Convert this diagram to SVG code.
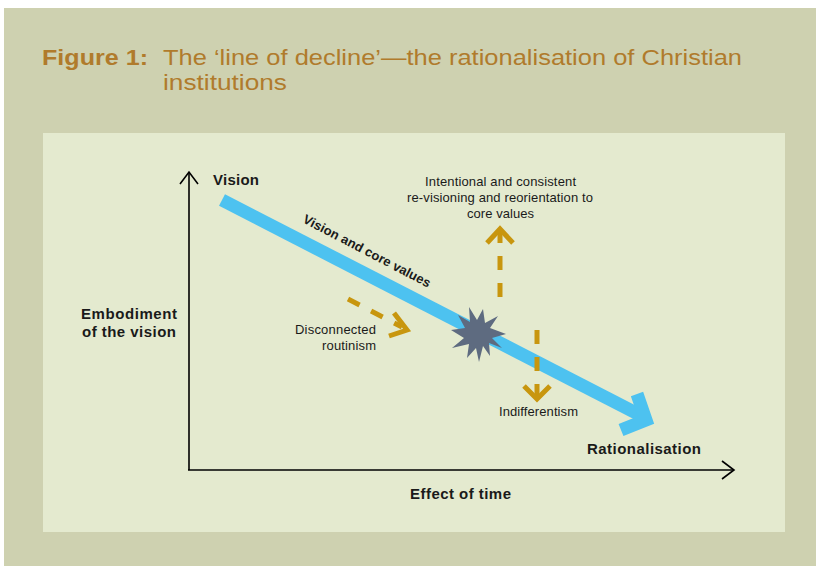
<svg xmlns="http://www.w3.org/2000/svg" width="816" height="566" viewBox="0 0 816 566">
<defs>
<style>
.t{font-family:"Liberation Sans",Arial,sans-serif;fill:#1a1a1a}
.b{font-weight:bold}
.title{font-family:"Liberation Sans",Arial,sans-serif;fill:#B07B2C;font-size:22.5px}
.axis{stroke:#000;stroke-width:1.6;fill:none}
.gold{stroke:#C8960E;stroke-width:5;fill:none}
.dash{stroke-dasharray:13 13}
</style>
</defs>
<rect x="0" y="0" width="816" height="566" fill="#fff"/>
<rect x="4" y="8" width="812" height="558" fill="#CED1B0"/>
<text class="title b" x="42" y="65" textLength="106" lengthAdjust="spacingAndGlyphs">Figure 1:</text>
<text class="title" x="163" y="65" textLength="579" lengthAdjust="spacingAndGlyphs">The ‘line of decline’—the rationalisation of Christian</text>
<text class="title" x="163" y="90" textLength="124" lengthAdjust="spacingAndGlyphs">institutions</text>
<rect x="43" y="133" width="742" height="399" fill="#E4EACF"/>
<g id="connectors">
<g id="axes">
<line class="axis" x1="189" y1="172" x2="189" y2="470"/>
<polyline class="axis" points="180,184 189,172 198,184"/>
<line class="axis" x1="188" y1="470" x2="734" y2="470"/>
<polyline class="axis" points="722,461 734,470 722,479"/>
</g>
<g id="decline">
<line x1="222" y1="200" x2="640" y2="415" stroke="#4DC2F0" stroke-width="13"/>
<polyline points="621,430 646,420 637,394" stroke="#4DC2F0" stroke-width="13" fill="none" stroke-linejoin="miter" stroke-miterlimit="10"/>
</g>
<g id="routinism-arrow">
<line class="gold dash" x1="348" y1="299" x2="402" y2="327"/>
<polyline class="gold" points="394,313 407,330 389,336"/>
</g>
<g id="revision-arrow">
<line class="gold" x1="500" y1="297" x2="500" y2="283"/>
<line class="gold" x1="500" y1="270" x2="500" y2="256"/>
<line class="gold" x1="500" y1="243" x2="500" y2="230"/>
<polyline class="gold" points="487,243 500,229 513,243"/>
</g>
<g id="indiff-arrow">
<line class="gold" x1="537" y1="330" x2="537" y2="344"/>
<line class="gold" x1="537" y1="357" x2="537" y2="371"/>
<line class="gold" x1="537" y1="384" x2="537" y2="398"/>
<polyline class="gold" points="524,386 537,399 550,386"/>
</g>
</g>
<g id="star">
<polygon fill="#5E6B80" points="506,334 492,338 502,348 489,343 490,356 483,346 479,362 476,348 467,358 469,344 452,348 464,338 451,330 465,328 458,315 470,322 469,307 477,320 483,309 485,323 498,316 490,328"/>
</g>
<g id="label-vision"><text class="t b" x="213" y="185" font-size="15" textLength="46">Vision</text></g>
<g id="label-values"><text class="t b" font-size="13" transform="translate(302,222) rotate(27.6)" textLength="142">Vision and core values</text></g>
<g id="label-embodiment">
<text class="t b" x="81" y="319" font-size="15" textLength="96">Embodiment</text>
<text class="t b" x="82" y="337" font-size="15" textLength="94">of the vision</text>
</g>
<g id="label-routinism">
<text class="t" x="295" y="334" font-size="13" textLength="81">Disconnected</text>
<text class="t" x="322" y="350" font-size="13" textLength="54">routinism</text>
</g>
<g id="label-intentional">
<text class="t" x="425" y="186" font-size="13" textLength="151">Intentional and consistent</text>
<text class="t" x="407" y="202" font-size="13" textLength="186">re-visioning and reorientation to</text>
<text class="t" x="467" y="218" font-size="13" textLength="67">core values</text>
</g>
<g id="label-indiff"><text class="t" x="499" y="416" font-size="13" textLength="79">Indifferentism</text></g>
<g id="label-rational"><text class="t b" x="587" y="454" font-size="15" textLength="114">Rationalisation</text></g>
<g id="label-time"><text class="t b" x="410" y="499" font-size="15" textLength="101">Effect of time</text></g>
</svg>
